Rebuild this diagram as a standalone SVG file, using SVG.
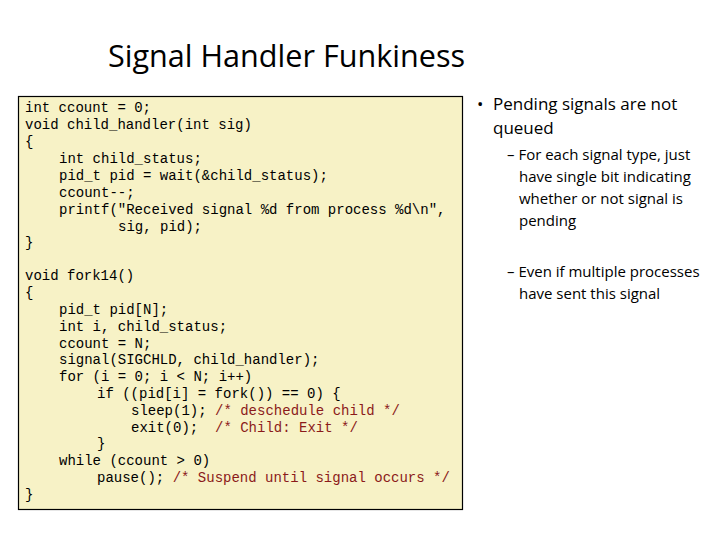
<svg xmlns="http://www.w3.org/2000/svg" width="720" height="540" viewBox="0 0 720 540">
<style>
.c{font-family:"Liberation Mono",monospace;font-size:14px;fill:#000;white-space:pre}
.r{fill:#8b1a1a}
.s{font-family:"Open Sans","Liberation Sans",sans-serif;fill:#000}
</style>
<rect width="720" height="540" fill="#fff"/>
<text class="s" x="108" y="67" font-size="30.6">Signal Handler Funkiness</text>
<g id="code">
<rect x="18.5" y="96.5" width="444" height="413" fill="#f7f2c6" stroke="#000" stroke-width="1.2"/>
<text class="c" x="25" y="112">int ccount = 0;</text>
<text class="c" x="25" y="129">void child_handler(int sig)</text>
<text class="c" x="25" y="146">{</text>
<text class="c" x="59" y="163">int child_status;</text>
<text class="c" x="59" y="180">pid_t pid = wait(&amp;child_status);</text>
<text class="c" x="59" y="197">ccount--;</text>
<text class="c" x="59" y="214">printf("Received signal %d from process %d\n",</text>
<text class="c" x="118" y="231">sig, pid);</text>
<text class="c" x="25" y="247">}</text>
<text class="c" x="25" y="280">void fork14()</text>
<text class="c" x="25" y="297">{</text>
<text class="c" x="59" y="314">pid_t pid[N];</text>
<text class="c" x="59" y="331">int i, child_status;</text>
<text class="c" x="59" y="348">ccount = N;</text>
<text class="c" x="59" y="364">signal(SIGCHLD, child_handler);</text>
<text class="c" x="59" y="381">for (i = 0; i &lt; N; i++)</text>
<text class="c" x="97" y="398">if ((pid[i] = fork()) == 0) {</text>
<text class="c" x="131" y="415">sleep(1); <tspan class="r">/* deschedule child */</tspan></text>
<text class="c" x="131" y="432">exit(0);  <tspan class="r">/* Child: Exit */</tspan></text>
<text class="c" x="97" y="448">}</text>
<text class="c" x="59" y="465">while (ccount &gt; 0)</text>
<text class="c" x="97" y="482">pause(); <tspan class="r">/* Suspend until signal occurs */</tspan></text>
<text class="c" x="25" y="499">}</text>
</g>
<g id="bullets">
<text class="s" x="477" y="110" font-size="17">•</text>
<text class="s" x="493" y="110" font-size="17">Pending signals are not</text>
<text class="s" x="493" y="134" font-size="17">queued</text>
<text class="s" x="507" y="160" font-size="15">– For each signal type, just</text>
<text class="s" x="519" y="182" font-size="15">have single bit indicating</text>
<text class="s" x="519" y="204" font-size="15">whether or not signal is</text>
<text class="s" x="519" y="226" font-size="15">pending</text>
<text class="s" x="507" y="277" font-size="15">– Even if multiple processes</text>
<text class="s" x="519" y="299" font-size="15">have sent this signal</text>
</g>
</svg>
